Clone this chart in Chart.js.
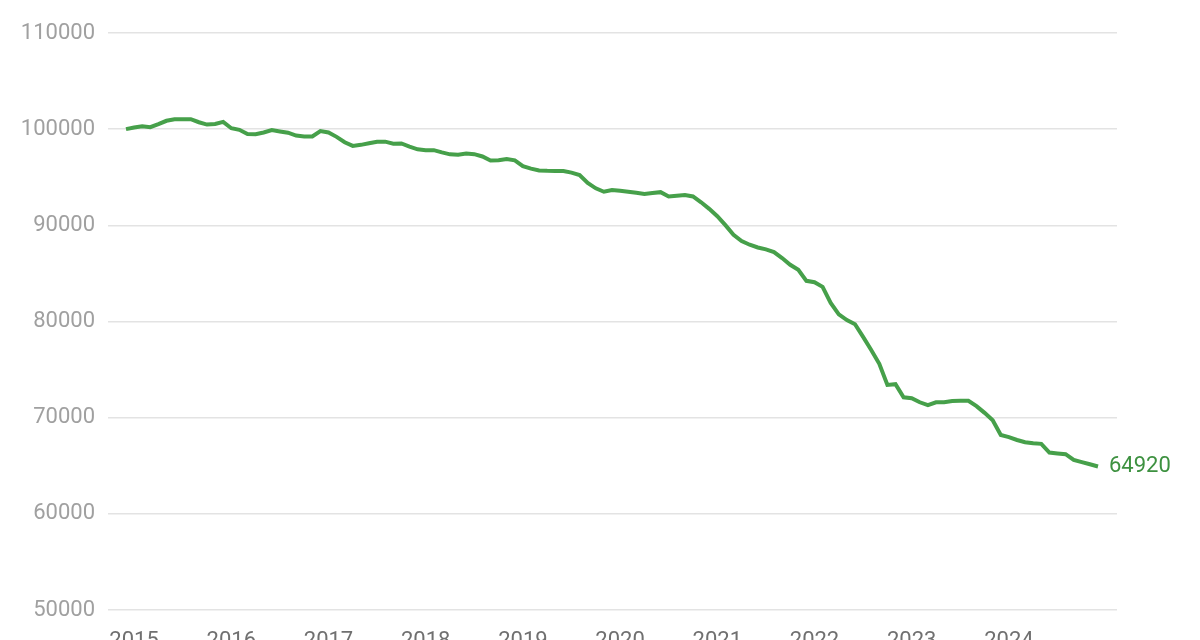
<!DOCTYPE html>
<html>
<head>
<meta charset="utf-8">
<script src="https://cdn.jsdelivr.net/npm/chart.js@4"></script>
<style>
    body { margin: 0; background: #fff; overflow: hidden; }
    #box { width: 1200px; height: 660px; }
</style>
</head>
<body>
<div id="box"><canvas id="grafico"></canvas></div>
<script>
// anos mostrados no eixo x
const anos = [2015, 2016, 2017, 2018, 2019, 2020, 2021, 2022, 2023, 2024]

// valores mensais, de dez/2014 até dez/2024
const valores = [
    100000,
    100180, 100310, 100200, 100520, 100870, 101020, 101040, 101040, 100720, 100480, 100540, 100760,
    100100, 99930, 99490, 99470, 99650, 99900, 99760, 99630, 99330, 99240, 99240, 99800,
    99650, 99200, 98640, 98260, 98370, 98530, 98690, 98700, 98490, 98510, 98180, 97900,
    97820, 97820, 97580, 97380, 97350, 97460, 97400, 97160, 96740, 96760, 96900, 96760,
    96150, 95900, 95700, 95670, 95660, 95650, 95480, 95230, 94400, 93850, 93490, 93680,
    93590, 93500, 93380, 93260, 93360, 93450, 93000, 93080, 93160, 93000, 92400, 91710,
    90950, 90020, 89020, 88370, 87980, 87700, 87500, 87220, 86600, 85900, 85370, 84230,
    84090, 83600, 81940, 80750, 80140, 79720, 78400, 77040, 75600, 73400, 73480, 72120,
    72030, 71600, 71300, 71600, 71610, 71730, 71750, 71750, 71200, 70500, 69730, 68200,
    67980, 67680, 67450, 67340, 67280, 66370, 66280, 66200, 65600, 65370, 65150, 64920
]

const inicio = 2014 + 11 / 12
const pontos = valores.map((v, i) => ({ x: inicio + i / 12, y: v }))

const verde = '#46a04a'

// escreve o último valor ao lado da linha
const rotuloFinal = {
    id: 'rotuloFinal',
    afterDatasetsDraw(chart) {
        const meta = chart.getDatasetMeta(0)
        const ult = meta.data[meta.data.length - 1]
        const ctx = chart.ctx
        ctx.save()
        ctx.font = '22px Roboto'
        ctx.fillStyle = '#3d9140'
        ctx.textAlign = 'left'
        ctx.textBaseline = 'middle'
        ctx.fillText(String(valores[valores.length - 1]), ult.x + 11, ult.y)
        ctx.restore()
    }
}

const ctx = document.getElementById('grafico').getContext('2d')

new Chart(ctx, {
    type: 'line',
    data: {
        datasets: [{
            data: pontos,
            borderColor: verde,
            borderWidth: 4,
            pointRadius: 0,
            tension: 0,
            fill: false
        }]
    },
    options: {
        responsive: true,
        maintainAspectRatio: false,
        animation: false,
        layout: {
            padding: { top: 33, right: 83, left: 0, bottom: 0 }
        },
        plugins: {
            legend: { display: false },
            tooltip: { enabled: false }
        },
        scales: {
            x: {
                type: 'linear',
                min: inicio - 18 / 97.2,
                max: inicio + 10 + 19 / 97.2,
                grid: { display: false },
                border: { display: false },
                afterBuildTicks: function (scale) {
                    scale.ticks = anos.map(a => ({ value: a }))
                },
                afterFit: function (scale) {
                    scale.height = 50
                },
                ticks: {
                    padding: 10,
                    color: '#707070',
                    font: { family: 'Roboto', size: 22 },
                    callback: function (value) {
                        return String(value)
                    }
                }
            },
            y: {
                min: 50000,
                max: 110000,
                grid: {
                    color: '#e3e3e3',
                    lineWidth: 1.5,
                    drawTicks: false
                },
                border: { display: false },
                afterFit: function (scale) {
                    scale.width = 108
                },
                ticks: {
                    stepSize: 10000,
                    padding: 13,
                    color: '#a0a0a0',
                    font: { family: 'Roboto', size: 22 },
                    callback: function (value) {
                        return String(value)
                    }
                }
            }
        }
    },
    plugins: [rotuloFinal]
})
</script>
</body>
</html>
